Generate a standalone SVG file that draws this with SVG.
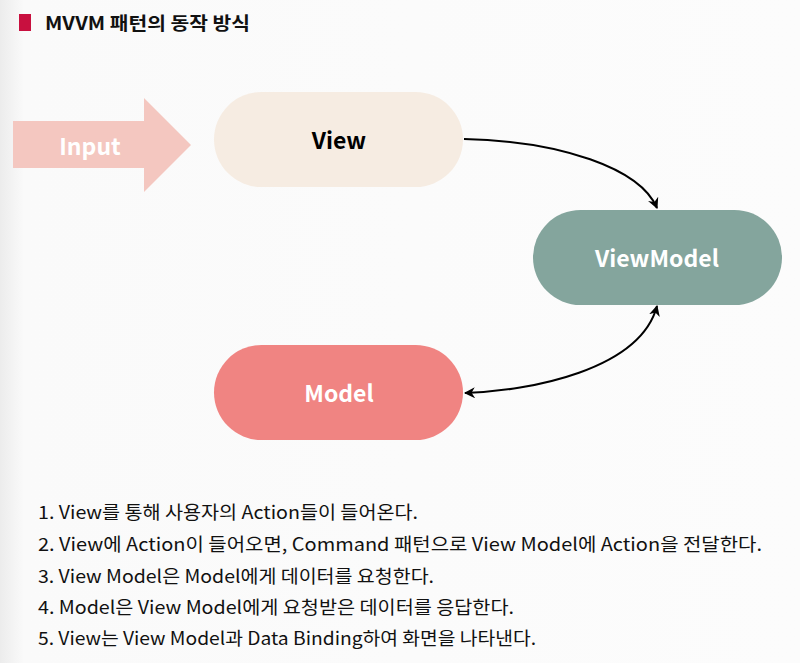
<svg xmlns="http://www.w3.org/2000/svg" width="800" height="663" viewBox="0 0 800 663">
<defs>
<linearGradient id="bg" x1="0" y1="0" x2="1" y2="0" gradientUnits="objectBoundingBox">
<stop offset="0" stop-color="#ececec"/>
<stop offset="0.03" stop-color="#fafafa"/>
<stop offset="1" stop-color="#fcfcfc"/>
</linearGradient>
<marker id="ah" viewBox="0 0 10 10" refX="9" refY="5" markerWidth="11" markerHeight="11" orient="auto-start-reverse" markerUnits="userSpaceOnUse">
<path d="M0,0 L10,5 L0,10 L3,5 Z" fill="#000"/>
</marker>
</defs>
<style>
.t{font-family:"Noto Sans CJK KR","Noto Sans",sans-serif;}
.lbl{font-family:"Noto Sans CJK KR","Noto Sans",sans-serif;font-weight:bold;font-size:23px;text-anchor:middle;dominant-baseline:central;}
.item{font-family:"Noto Sans CJK KR","Noto Sans",sans-serif;font-size:18px;fill:#111;}
.conn{fill:none;stroke:#000;stroke-width:2;}
</style>
<rect width="800" height="663" fill="url(#bg)"/>
<g id="title">
<rect x="19" y="14" width="12" height="17" fill="#c8103f"/>
<text class="t" x="45" y="30" font-size="18" font-weight="bold" fill="#111" textLength="205" lengthAdjust="spacingAndGlyphs">MVVM 패턴의 동작 방식</text>
</g>
<g id="input">
<path d="M13,121 H144 V98 L191,145 L144,192 V168 H13 Z" fill="#f4c7c0"/>
<text class="lbl" x="90" y="145" fill="#fff">Input</text>
</g>
<g id="view">
<rect x="214" y="92" width="249" height="95" rx="47.5" fill="#f6ece2"/>
<text class="lbl" x="339" y="139" fill="#000">View</text>
</g>
<g id="viewmodel">
<rect x="533" y="210" width="249" height="95" rx="47.5" fill="#84a59d"/>
<text class="lbl" x="657" y="257" fill="#fff">ViewModel</text>
</g>
<g id="model">
<rect x="214" y="345" width="249" height="95" rx="47.5" fill="#f08482"/>
<text class="lbl" x="339" y="392" fill="#fff">Model</text>
</g>
<g id="connectors">
<path class="conn" d="M464,139 C560,141 640,168 657,208" marker-end="url(#ah)"/>
<path class="conn" d="M657,306 C640,370 530,391 465,393" marker-start="url(#ah)" marker-end="url(#ah)"/>
</g>
<g id="list">
<text class="item" x="38" y="519" textLength="380" lengthAdjust="spacingAndGlyphs">1. View를 통해 사용자의 Action들이 들어온다.</text>
<text class="item" x="38" y="551" textLength="724" lengthAdjust="spacingAndGlyphs">2. View에 Action이 들어오면, Command 패턴으로 View Model에 Action을 전달한다.</text>
<text class="item" x="38" y="583" textLength="396" lengthAdjust="spacingAndGlyphs">3. View Model은 Model에게 데이터를 요청한다.</text>
<text class="item" x="38" y="614" textLength="476" lengthAdjust="spacingAndGlyphs">4. Model은 View Model에게 요청받은 데이터를 응답한다.</text>
<text class="item" x="38" y="645" textLength="498" lengthAdjust="spacingAndGlyphs">5. View는 View Model과 Data Binding하여 화면을 나타낸다.</text>
</g>
</svg>
